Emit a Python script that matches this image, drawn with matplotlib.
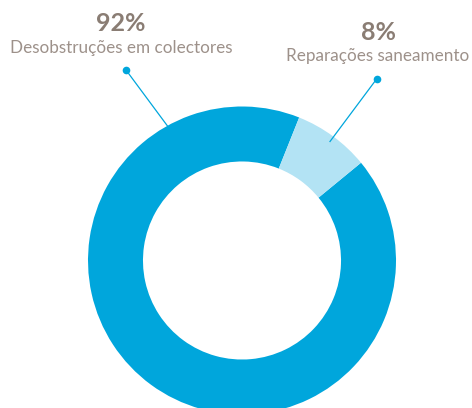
import matplotlib.pyplot as plt

# Intervenções na rede de saneamento
categories = ["Desobstruções em colectores", "Reparações saneamento"]
values = [92, 8]
pct_labels = ["92%", "8%"]
colors = ["#00a6dc", "#b3e3f4"]

text_dark = "#8a7d74"
text_light = "#9d918a"

W, H = 472, 408
fig = plt.figure(figsize=(W / 100, H / 100), dpi=100)
ax = fig.add_axes([0, 0, 1, 1])

cx, cy, r = 242, H - 260.5, 154
ax.pie(values, colors=colors, startangle=39.4, counterclock=False,
       center=(cx, cy), radius=r, frame=True,
       wedgeprops=dict(width=r * 0.357, linewidth=0))
ax.set_xlim(0, W)
ax.set_ylim(0, H)
ax.set_aspect("equal")
ax.axis("off")

# leader lines with dot at the label end
leaders = [((126, 70), (167.5, 126)), ((377, 78.5), (330, 141.5))]
for (x0, y0), (x1, y1) in leaders:
    ax.plot([x0, x1], [H - y0, H - y1], color="#00a6dc", lw=0.9)
    ax.plot(x0, H - y0, "o", color="#00a6dc", ms=5.5, mec="none")

label_pos = [(121, 31, 53.5), (378, 40, 61)]
for (x, yp, ys), pct, cat in zip(label_pos, pct_labels, categories):
    ax.text(x, H - yp, pct, ha="center", va="baseline", fontsize=18,
            fontweight="bold", color=text_dark, family="Lato")
    ax.text(x, H - ys, cat, ha="center", va="baseline", fontsize=12.3,
            fontweight="normal", color=text_light, family="Lato")

fig.savefig("out.png", dpi=100)
